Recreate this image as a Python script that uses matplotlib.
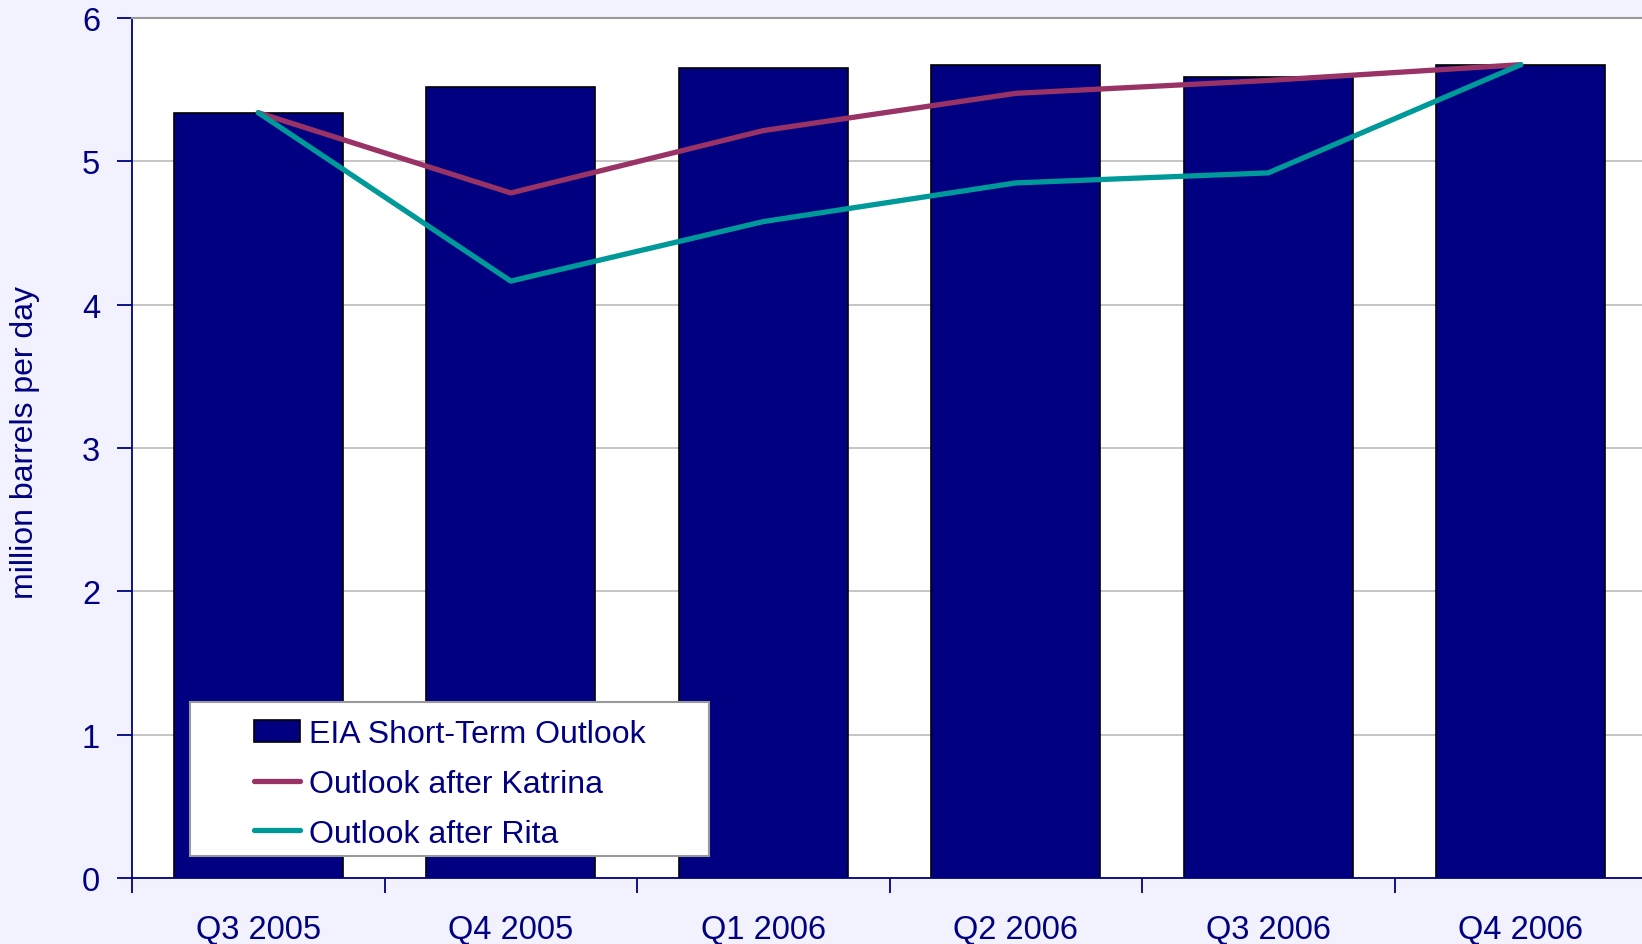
import numpy as np
import matplotlib
matplotlib.use("Agg")
import matplotlib.pyplot as plt
from matplotlib.patches import Rectangle

plt.rcParams["font.family"] = ["Liberation Sans", "DejaVu Sans"]

# --- data (million barrels per day) ---
quarters = ["Q3 2005", "Q4 2005", "Q1 2006", "Q2 2006", "Q3 2006", "Q4 2006"]
eia_outlook = [5.34, 5.52, 5.65, 5.67, 5.59, 5.675]
after_katrina = [5.34, 4.78, 5.215, 5.475, 5.565, 5.675]
after_rita = [5.34, 4.165, 4.58, 4.85, 4.92, 5.675]

NAVY = "#000080"
BG = "#F2F2FE"

fig = plt.figure(figsize=(16.42, 9.45), dpi=100, facecolor=BG)
ax = fig.add_axes([0.0804, 0.0698, 0.9196, 0.910])
ax.set_facecolor("white")

x = np.arange(len(quarters))
bars = ax.bar(x, eia_outlook, width=0.67, color=NAVY, edgecolor="black",
              linewidth=1.2, zorder=2, label="EIA Short-Term Outlook")
l_kat, = ax.plot(x, after_katrina, color="#993366", linewidth=3.8, zorder=3,
                 solid_capstyle="round", label="Outlook after Katrina")
l_rita, = ax.plot(x, after_rita, color="#009999", linewidth=3.8, zorder=3,
                  solid_capstyle="round", label="Outlook after Rita")

ax.set_xlim(-0.5, 5.48)
ax.set_ylim(0, 6)

# y axis
ax.set_yticks(range(0, 7))
ax.yaxis.grid(True, color="#C0C0C0", linewidth=1.3, zorder=0)
ax.set_axisbelow(True)
ax.tick_params(axis="y", direction="out", length=11, width=1.3,
               color=NAVY, labelcolor=NAVY, labelsize=23.5, pad=12)

# x axis: ticks at category boundaries, labels at centres
ax.set_xticks(np.arange(-0.5, 5.5, 1.0))
ax.set_xticklabels([])
ax.set_xticks(x, minor=True)
ax.set_xticklabels(quarters, minor=True)
ax.tick_params(axis="x", which="major", direction="out", length=11,
               width=1.3, color=NAVY)
ax.tick_params(axis="x", which="minor", length=0, labelcolor=NAVY,
               labelsize=23.5, pad=26)

for side in ("left", "bottom"):
    ax.spines[side].set_color(NAVY)
    ax.spines[side].set_linewidth(1.3)
ax.spines["top"].set_color("#999999")
ax.spines["top"].set_linewidth(1.5)
ax.spines["right"].set_visible(False)

ax.set_ylabel("million barrels per day", color=NAVY, fontsize=23)
ax.yaxis.set_label_coords(-0.061, 0.508)

# legend box drawn separately so the padding matches
ax.add_patch(Rectangle((0.0381, 0.0262), 0.344, 0.178, transform=ax.transAxes,
                       facecolor="white", edgecolor="#999999",
                       linewidth=1.5, zorder=4))
leg = ax.legend([bars, l_kat, l_rita],
                ["EIA Short-Term Outlook", "Outlook after Katrina",
                 "Outlook after Rita"],
                loc="upper left", bbox_to_anchor=(0.0805, 0.185),
                frameon=False, fontsize=23, handlelength=1.45,
                handletextpad=0.3, labelspacing=0.62, borderpad=0,
                borderaxespad=0)
leg.set_zorder(5)
for t in leg.get_texts():
    t.set_color(NAVY)

fig.savefig("out.png", dpi=100, facecolor=BG)
